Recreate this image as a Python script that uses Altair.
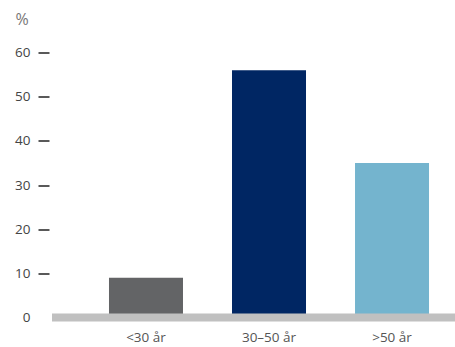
import altair as alt
import pandas as pd

categories = ["<30 år", "30–50 år", ">50 år"]
values = [9, 56, 35]
colors = ["#636466", "#002663", "#74b4ce"]

df = pd.DataFrame({"cat": categories, "val": values, "color": colors})

font = "Open Sans"

x = alt.X("cat:N", sort=categories, title=None,
          scale=alt.Scale(paddingInner=0.398, paddingOuter=0.337, align=0.687),
          axis=alt.Axis(domain=False, ticks=False, labelPadding=13, labelFontSize=13.5,
                        labelColor="#555555", labelFont=font, labelAngle=0))

yaxis = alt.Axis(values=[0, 10, 20, 30, 40, 50, 60], domain=False, grid=False,
                 tickSize=11, offset=3, labelPadding=8, tickWidth=1.5,
                 tickColor={"condition": {"test": "datum.value === 0", "value": "transparent"}, "value": "#222222"},
                 labelFontSize=13.5, labelColor="#444444", labelFont=font,
                 titleAngle=0, titleFont=font, titleFontSize=16, titleFontWeight="normal",
                 titleColor="#777777", titleAlign="left", titleBaseline="top",
                 titleX=-34, titleY=-41)
yscale = alt.Scale(domain=[0, 60], nice=False)

bars = alt.Chart(df).mark_bar(size=74).encode(
    x=x,
    y=alt.Y("val:Q", title="%", scale=yscale, axis=yaxis),
    color=alt.Color("color:N", scale=None),
)

base = alt.Chart(df).transform_aggregate(n="count()").transform_calculate(zero="0").mark_rule(
    color="#c0c0c0", strokeWidth=8
).encode(
    y=alt.Y("zero:Q", title="%", scale=yscale, axis=yaxis)
)

chart = alt.layer(bars, base).properties(
    width=403, height=265,
    autosize=alt.AutoSizeParams(type="none"),
    padding={"left": 52, "top": 52.5, "right": 0, "bottom": 29.5},
    background="white",
).configure_view(stroke="transparent", strokeWidth=0)

chart.save("out.html", embed_options={"renderer": "svg", "actions": False})
